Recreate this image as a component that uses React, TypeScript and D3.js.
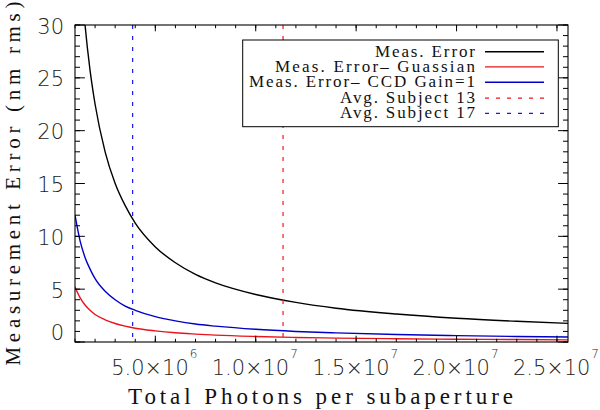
import React from "react";
import * as d3 from "d3";

// ---- data ----
const photons = [1.0e6, 1.25e6, 1.5e6, 1.75e6, 2e6, 2.5e6, 3e6, 3.5e6, 4e6, 5e6, 6e6, 7e6, 8e6, 1e7, 1.2e7, 1.4e7, 1.7e7, 2.0e7, 2.3e7, 2.555e7];
const measError = [45, 36, 30, 25.7, 22.5, 18, 15, 12.9, 11.25, 9, 7.5, 6.4, 5.6, 4.5, 3.75, 3.2, 2.65, 2.25, 1.96, 1.76];
const measErrorGaussian = [5.2, 4.2, 3.5, 3.0, 2.6, 2.1, 1.75, 1.5, 1.3, 1.05, 0.87, 0.75, 0.65, 0.52, 0.43, 0.37, 0.31, 0.26, 0.23, 0.2];
const measErrorCCD = [12, 9.6, 8, 6.9, 6, 4.8, 4, 3.4, 3.0, 2.4, 2.0, 1.7, 1.5, 1.2, 1.0, 0.86, 0.71, 0.6, 0.52, 0.47];
const subjectLines = [
  { label: "Avg. Subject 13", x: 1.136e7, color: "#f01818" },
  { label: "Avg. Subject 17", x: 3.87e6, color: "#1818f0" },
];
const xMajorTicks = [5e6, 1e7, 1.5e7, 2e7, 2.5e7];
const xTickMantissa = ["5.0", "1.0", "1.5", "2.0", "2.5"];
const xTickExponent = ["6", "7", "7", "7", "7"];
const yMajorTicks = [0, 5, 10, 15, 20, 25, 30];
const xDomain = [1e6, 2.555e7];
const yDomain = [0, 30];

const series = [
  { label: "Meas. Error", values: measError, color: "#000000", textLen: 100 },
  { label: "Meas. Error\u2013 Guassian", values: measErrorGaussian, color: "#e8141c", textLen: 200 },
  { label: "Meas. Error\u2013 CCD Gain=1", values: measErrorCCD, color: "#0000c8", textLen: 226 },
];

const W = 600, H = 410;
const L = 75, R = 568, T = 25, B = 342;

export default function App() {
  const x = d3.scaleLinear().domain(xDomain).range([L, R]);
  const y = d3.scaleLinear().domain(yDomain).range([B, T]);
  const line = d3
    .line<number>()
    .x((_, i) => x(photons[i]))
    .y((d) => y(d))
    .curve(d3.curveMonotoneX);

  const xMinor = d3.range(1e6, 2.55e7 + 1, 1e6);
  const yMinor = d3.range(0, 31, 1);
  const xMajLen = 6.3, xMinLen = 3.2, yMajLen = 9.9, yMinLen = 5;
  const serif = "'Liberation Serif', serif";
  const sans = "'DejaVu Sans', sans-serif";

  const legendRows = [
    ...series.map((s) => ({ label: s.label, color: s.color, dash: undefined as string | undefined, width: 1.4, textLen: s.textLen })),
    ...subjectLines.map((s) => ({ label: s.label, color: s.color, dash: "4,7", width: 1.2, textLen: 135 })),
  ];
  const rowY = [51.7, 66.9, 82.3, 98.1, 113.3];

  return (
    <svg width={W} height={H} style={{ position: "absolute", left: 0, top: 0, background: "#fff" }}>
      <defs>
        <clipPath id="plotclip">
          <rect x={L} y={T} width={R - L} height={B - T} />
        </clipPath>
      </defs>
      <rect x={0} y={0} width={W} height={H} fill="#fff" />

      {/* curves */}
      <g clipPath="url(#plotclip)">
        {series.map((s) => (
          <path key={s.label} d={line(s.values) || ""} fill="none" stroke={s.color} strokeWidth={1.4} />
        ))}
        {subjectLines.map((s) => (
          <line key={s.label} x1={x(s.x)} x2={x(s.x)} y1={T} y2={B} stroke={s.color} strokeWidth={1.2} strokeDasharray="4,7" />
        ))}
      </g>

      {/* axes box */}
      <rect x={L} y={T} width={R - L} height={B - T} fill="none" stroke="#000" strokeWidth={1.1} />

      {/* x ticks */}
      {xMinor.map((v) => (
        <g key={"xm" + v}>
          <line x1={x(v)} x2={x(v)} y1={B} y2={B - xMinLen} stroke="#000" strokeWidth={1} />
          <line x1={x(v)} x2={x(v)} y1={T} y2={T + xMinLen} stroke="#000" strokeWidth={1} />
        </g>
      ))}
      {xMajorTicks.map((v, i) => (
        <g key={"xM" + v}>
          <line x1={x(v)} x2={x(v)} y1={B} y2={B - xMajLen} stroke="#000" strokeWidth={1} />
          <line x1={x(v)} x2={x(v)} y1={T} y2={T + xMajLen} stroke="#000" strokeWidth={1} />
          <text x={x(v) - 44} y={375} fontFamily={sans} fontWeight={200} fontSize={21} textLength={86} lengthAdjust="spacingAndGlyphs" fill="#222">
            {xTickMantissa[i]}×10
            <tspan fontSize={12} dx={1} dy={-17}>{xTickExponent[i]}</tspan>
          </text>
        </g>
      ))}

      {/* y ticks */}
      {yMinor.map((v) => (
        <g key={"ym" + v}>
          <line x1={L} x2={L + yMinLen} y1={y(v)} y2={y(v)} stroke="#000" strokeWidth={1} />
          <line x1={R} x2={R - yMinLen} y1={y(v)} y2={y(v)} stroke="#000" strokeWidth={1} />
        </g>
      ))}
      {yMajorTicks.map((v) => (
        <g key={"yM" + v}>
          <line x1={L} x2={L + yMajLen} y1={y(v)} y2={y(v)} stroke="#000" strokeWidth={1} />
          <line x1={R} x2={R - yMajLen} y1={y(v)} y2={y(v)} stroke="#000" strokeWidth={1} />
          <text
            x={64}
            y={v === 0 ? y(v) - 9 : y(v) + 1.5}
            textAnchor="end"
            dominantBaseline="central"
            fontFamily={sans}
            fontWeight={200}
            fontSize={21}
            fill="#222"
          >
            {v}
          </text>
        </g>
      ))}

      {/* axis titles */}
      <text x={320.5} y={404} textAnchor="middle" fontFamily={serif} fontSize={23} textLength={385} lengthAdjust="spacing" fill="#111">
        Total Photons per subaperture
      </text>
      <text
        transform={`translate(19.5,${(T + B) / 2}) rotate(-90)`}
        textAnchor="middle"
        fontFamily={serif}
        fontSize={21}
        textLength={364}
        lengthAdjust="spacing"
        fill="#111"
      >
        Measurement Error (nm rms)
      </text>

      {/* legend */}
      <rect x={242.7} y={40} width={315.6} height={86.7} fill="#fff" stroke="#000" strokeWidth={1} />
      {legendRows.map((r, i) => (
        <g key={r.label}>
          <text x={475} y={rowY[i] + 5} textAnchor="end" fontFamily={serif} fontSize={17} textLength={r.textLen} lengthAdjust="spacing" fill="#111">
            {r.label}
          </text>
          <line x1={485} x2={544} y1={rowY[i]} y2={rowY[i]} stroke={r.color} strokeWidth={r.width} strokeDasharray={r.dash} />
        </g>
      ))}
    </svg>
  );
}
